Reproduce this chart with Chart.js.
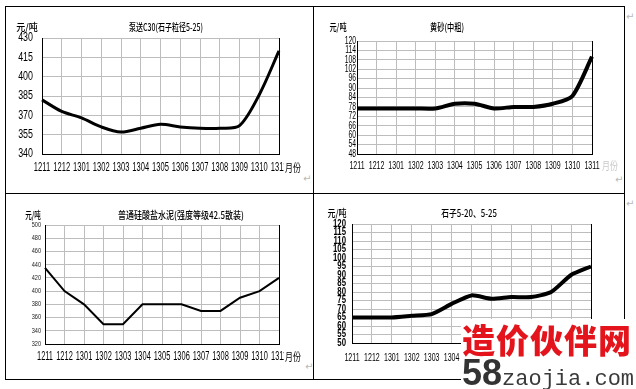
<!DOCTYPE html>
<html>
<head>
<meta charset="utf-8">
<script src="https://cdn.jsdelivr.net/npm/chart.js@4"></script>
<style>
  body { margin: 0; background: #fff; }
  #page { position: relative; width: 636px; height: 389px; overflow: hidden; font-family: "Noto Sans CJK SC", sans-serif; }
  canvas { position: absolute; }
  .ln { position: absolute; background: #000; }
  .mark { position: absolute; color: #b8b8b8; font-size: 10px; font-family: "DejaVu Sans", sans-serif; }
  #wm { position: absolute; left: 461px; top: 319px; width: 175px; height: 70px; background: #fff; }
  #wm .cn { position: absolute; left: 1px; top: 0px; font-size: 33px; line-height: 40px; font-weight: 900; color: #e3141b; white-space: nowrap; letter-spacing: 1px; }
  #wm .en { position: absolute; left: 1px; top: 37px; line-height: 34px; white-space: nowrap; color: #3a3a3a; }
  #wm .en b { font-family: "Liberation Sans", sans-serif; font-size: 36px; font-weight: bold; color: #333; }
  #wm .en span { font-family: "Liberation Mono", monospace; font-size: 22px; }
</style>
</head>
<body>
<div id="page">
  <div class="ln" style="left:5px;top:6px;width:620px;height:1px"></div>
  <div class="ln" style="left:5px;top:6px;width:1px;height:374px"></div>
  <div class="ln" style="left:313px;top:6px;width:1px;height:374px"></div>
  <div class="ln" style="left:624px;top:6px;width:1px;height:374px"></div>
  <div class="ln" style="left:5px;top:193px;width:620px;height:1px"></div>
  <div class="ln" style="left:5px;top:379px;width:620px;height:1px"></div>
  <span class="mark" style="left:303px;top:173px">↵</span>
  <span class="mark" style="left:626px;top:11px">↵</span>
  <span class="mark" style="left:615px;top:174px">↵</span>
  <span class="mark" style="left:305px;top:361px">↵</span>
  <span class="mark" style="left:626px;top:198px">↵</span>

  <canvas id="c1" width="318" height="195" style="left:0;top:0"></canvas>
  <canvas id="c2" width="318" height="195" style="left:318px;top:0"></canvas>
  <canvas id="c3" width="318" height="195" style="left:0;top:195px"></canvas>
  <canvas id="c4" width="318" height="195" style="left:318px;top:195px"></canvas>

  <div id="wm">
    <div class="cn">造价伙伴网</div>
    <div class="en"><b>58</b><span>zaojia.com</span></div>
  </div>
</div>
<script>
const months = ['1211','1212','1301','1302','1303','1304','1305','1306','1307','1308','1309','1310','1311']

const concreteC30 = [382, 373, 368, 361, 357, 360, 363, 361, 360, 360, 362, 386, 420]
const yellowSand = [77, 77, 77, 77, 77, 80, 80, 77, 78, 78, 80, 85, 110]
const cement425 = [435, 400, 380, 350, 350, 380, 380, 380, 370, 370, 390, 400, 420]
const gravel = [65, 65, 65, 66, 67, 73, 78, 76, 77, 77, 80, 90, 95]

const ticksC30 = [340, 355, 370, 385, 400, 415, 430]
const ticksSand = [48, 54, 60, 66, 72, 78, 84, 90, 96, 102, 108, 114, 120]
const ticksCement = [320, 340, 360, 380, 400, 420, 440, 460, 480, 500]
const ticksGravel = [50, 55, 60, 65, 70, 75, 80, 85, 90, 95, 100, 105, 110, 115, 120]

const sans = "'Liberation Sans', Arial, sans-serif"
const cjk = "'Noto Sans CJK SC', sans-serif"

// squeezed text, the old chart is narrow
function txt(ctx, s, x, y, font, stretch, align, color) {
    ctx.save()
    ctx.font = font
    ctx.fillStyle = color || '#000'
    ctx.textBaseline = 'middle'
    ctx.textAlign = align
    ctx.translate(x, y)
    ctx.scale(stretch, 1)
    ctx.fillText(s, 0, 0)
    ctx.restore()
}

const extras = {
    id: 'extras',
    afterDraw(chart, args, o) {
        const ctx = chart.ctx
        const a = chart.chartArea
        const xs = chart.scales.x
        const ys = chart.scales.y

        ctx.save()
        ctx.strokeStyle = '#000'
        ctx.lineWidth = 1
        ctx.beginPath()
        ctx.moveTo(Math.round(a.right) + 0.5, a.top)
        ctx.lineTo(Math.round(a.right) + 0.5, a.bottom)
        ctx.stroke()
        ctx.restore()

        // tick labels from the scales
        xs.ticks.forEach((t, i) => {
            txt(ctx, xs.getLabelForValue(t.value), xs.getPixelForTick(i), o.xY, o.xFont, o.xStretch, 'center')
        })
        ys.ticks.forEach((t, i) => {
            txt(ctx, String(t.value), o.yRight, ys.getPixelForTick(i), o.yFont, o.yStretch, 'right', o.yColor)
        })

        txt(ctx, o.title, o.tx, o.ty, '500 10px ' + cjk, o.tStretch, 'center')
        txt(ctx, '元/吨', o.ux, o.uy, '500 10px ' + cjk, o.uStretch, 'center')
        if (o.xuColor) {
            if (o.xuCover) {
                ctx.save()
                ctx.fillStyle = '#fff'
                ctx.fillRect(o.xux - 1, o.xY - 6, 16, 12)
                ctx.restore()
            }
            txt(ctx, '月份', o.xux, o.xY, '11px ' + cjk, 0.72, 'left', o.xuColor)
        }
    }
}

function makeChart(id, values, ticks, box, look) {
    const info = {
        labels: months,
        datasets: [{
            data: values,
            borderColor: '#000',
            borderWidth: look.lineWidth,
            pointRadius: 0,
            tension: look.tension,
            fill: false
        }]
    }

    const options = {
        responsive: false,
        animation: false,
        devicePixelRatio: 1,
        layout: {
            padding: { left: 0, top: box.top, right: 318 - box.right, bottom: 195 - box.bottom - 30 }
        },
        scales: {
            x: {
                afterFit: s => { s.height = 30 },
                grid: { color: '#bdbdbd', drawTicks: false },
                border: { color: '#000', width: 1 },
                ticks: { display: false, autoSkip: false }
            },
            y: {
                min: ticks[0],
                max: ticks[ticks.length - 1],
                afterFit: s => { s.width = box.left },
                afterBuildTicks: s => { s.ticks = ticks.map(v => ({ value: v })) },
                grid: { color: '#bdbdbd', drawTicks: false },
                border: { color: '#000', width: 1 },
                ticks: { display: false }
            }
        },
        plugins: {
            legend: { display: false },
            tooltip: { enabled: false },
            extras: look.extras
        }
    }

    return new Chart(document.getElementById(id), { type: 'line', data: info, options, plugins: [extras] })
}

makeChart('c1', concreteC30, ticksC30,
    { left: 42, top: 38, right: 279, bottom: 154 },
    { lineWidth: 3, tension: 0.3,
      extras: { xY: 168, xFont: '12px ' + sans, xStretch: 0.63, yRight: 33, yFont: '12px ' + sans, yStretch: 0.74,
                title: '泵送C30(石子粒径5-25)', tx: 166, ty: 27, tStretch: 0.7, ux: 27, uy: 27, uStretch: 0.9,
                xux: 285, xuColor: '#000', xuCover: true } })

makeChart('c2', yellowSand, ticksSand,
    { left: 39, top: 41, right: 274, bottom: 154 },
    { lineWidth: 4, tension: 0.25,
      extras: { xY: 166, xFont: '11px ' + sans, xStretch: 0.64, yRight: 38, yFont: '10px ' + sans, yStretch: 0.68,
                title: '黄砂(中粗)', tx: 129, ty: 27, tStretch: 0.72, ux: 20, uy: 27, uStretch: 0.72,
                xux: 284, xuColor: '#c8c8c8', xuCover: false } })

makeChart('c3', cement425, ticksCement,
    { left: 45, top: 30, right: 279, bottom: 149 },
    { lineWidth: 2, tension: 0,
      extras: { xY: 162, xFont: '12px ' + sans, xStretch: 0.62, yRight: 41, yFont: '7px ' + sans, yStretch: 0.8, yColor: '#222',
                title: '普通硅酸盐水泥(强度等级42.5散装)', tx: 181, ty: 20, tStretch: 0.8, ux: 33, uy: 20, uStretch: 0.65,
                xux: 285, xuColor: '#000', xuCover: true } })

makeChart('c4', gravel, ticksGravel,
    { left: 34, top: 29, right: 273, bottom: 148 },
    { lineWidth: 4, tension: 0.2,
      extras: { xY: 163, xFont: '11px ' + sans, xStretch: 0.64, yRight: 28, yFont: 'bold 10px ' + sans, yStretch: 0.78,
                title: '石子5-20、5-25', tx: 151, ty: 18, tStretch: 0.78, ux: 19, uy: 18, uStretch: 0.8,
                xuColor: null } })
</script>
</body>
</html>
